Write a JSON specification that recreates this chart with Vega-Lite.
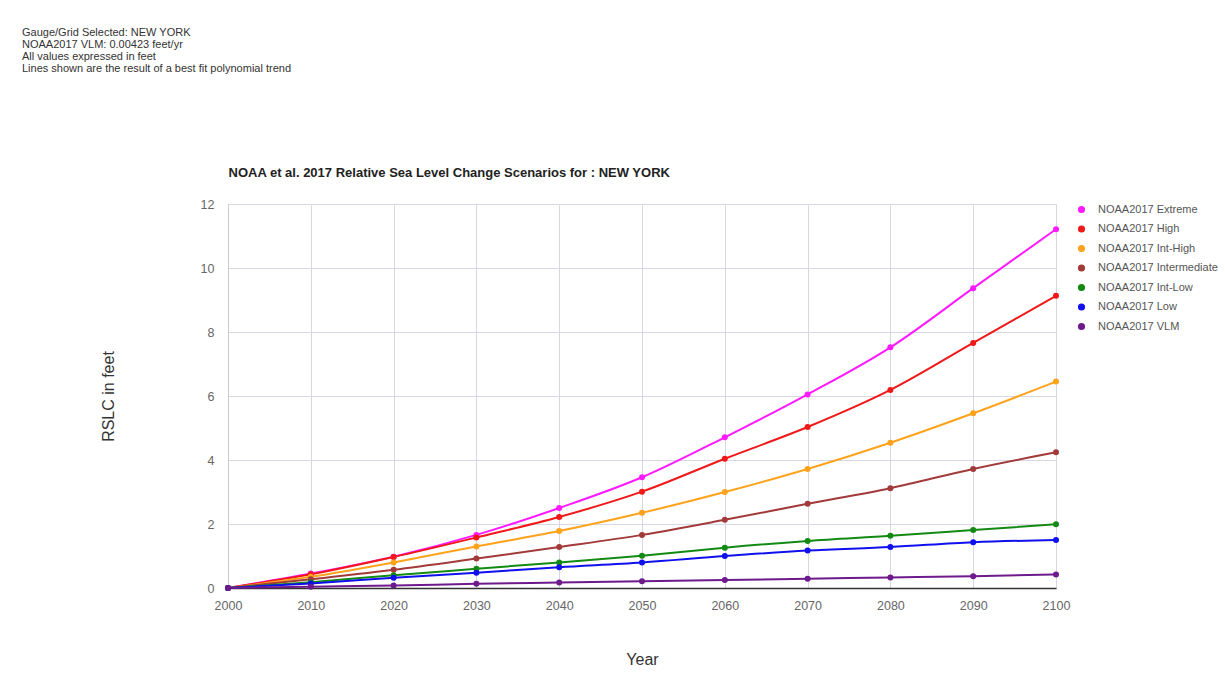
{
  "$schema": "https://vega.github.io/schema/vega-lite/v6.json",
  "width": 828,
  "height": 384,
  "autosize": {"type": "none"},
  "padding": {"left": 228, "top": 204, "right": 169, "bottom": 85},
  "background": "white",
  "title": {
    "text": ["Gauge/Grid Selected: NEW YORK", "NOAA2017 VLM: 0.00423 feet/yr", "All values expressed in feet", "Lines shown are the result of a best fit polynomial trend"],
    "anchor": "start",
    "frame": "group",
    "dx": -206,
    "offset": 81,
    "font": "Liberation Sans",
    "fontSize": 11,
    "fontWeight": "normal",
    "color": "#333333",
    "lineHeight": 12,
    "baseline": "bottom"
  },
  "config": {
    "font": "Liberation Sans",
    "view": {"stroke": "#c9c9d9", "strokeWidth": 1},
    "axis": {
      "gridColor": "#d8d8e4",
      "labelColor": "#666666",
      "labelFont": "Liberation Sans",
      "labelFontSize": 12.5,
      "titleFont": "Liberation Sans",
      "titleColor": "#333333",
      "titleFontSize": 16,
      "titleFontWeight": "normal",
      "ticks": false,
      "labelFlush": false,
      "labelBound": false
    },
    "legend": {
      "labelFont": "Liberation Sans",
      "labelFontSize": 11,
      "labelColor": "#555555"
    }
  },
  "data": {
    "values": [
      {"year": 2000, "scenario": "NOAA2017 Extreme", "rslc": 0},
      {"year": 2010, "scenario": "NOAA2017 Extreme", "rslc": 0.45},
      {"year": 2020, "scenario": "NOAA2017 Extreme", "rslc": 0.98},
      {"year": 2030, "scenario": "NOAA2017 Extreme", "rslc": 1.66},
      {"year": 2040, "scenario": "NOAA2017 Extreme", "rslc": 2.5},
      {"year": 2050, "scenario": "NOAA2017 Extreme", "rslc": 3.46},
      {"year": 2060, "scenario": "NOAA2017 Extreme", "rslc": 4.71},
      {"year": 2070, "scenario": "NOAA2017 Extreme", "rslc": 6.05},
      {"year": 2080, "scenario": "NOAA2017 Extreme", "rslc": 7.52},
      {"year": 2090, "scenario": "NOAA2017 Extreme", "rslc": 9.37},
      {"year": 2100, "scenario": "NOAA2017 Extreme", "rslc": 11.21},
      {"year": 2000, "scenario": "NOAA2017 High", "rslc": 0},
      {"year": 2010, "scenario": "NOAA2017 High", "rslc": 0.43},
      {"year": 2020, "scenario": "NOAA2017 High", "rslc": 0.97},
      {"year": 2030, "scenario": "NOAA2017 High", "rslc": 1.58},
      {"year": 2040, "scenario": "NOAA2017 High", "rslc": 2.22},
      {"year": 2050, "scenario": "NOAA2017 High", "rslc": 3.01},
      {"year": 2060, "scenario": "NOAA2017 High", "rslc": 4.04},
      {"year": 2070, "scenario": "NOAA2017 High", "rslc": 5.03},
      {"year": 2080, "scenario": "NOAA2017 High", "rslc": 6.19},
      {"year": 2090, "scenario": "NOAA2017 High", "rslc": 7.66},
      {"year": 2100, "scenario": "NOAA2017 High", "rslc": 9.13},
      {"year": 2000, "scenario": "NOAA2017 Int-High", "rslc": 0},
      {"year": 2010, "scenario": "NOAA2017 Int-High", "rslc": 0.35},
      {"year": 2020, "scenario": "NOAA2017 Int-High", "rslc": 0.8},
      {"year": 2030, "scenario": "NOAA2017 Int-High", "rslc": 1.3},
      {"year": 2040, "scenario": "NOAA2017 Int-High", "rslc": 1.78},
      {"year": 2050, "scenario": "NOAA2017 Int-High", "rslc": 2.35},
      {"year": 2060, "scenario": "NOAA2017 Int-High", "rslc": 3.0},
      {"year": 2070, "scenario": "NOAA2017 Int-High", "rslc": 3.72},
      {"year": 2080, "scenario": "NOAA2017 Int-High", "rslc": 4.54},
      {"year": 2090, "scenario": "NOAA2017 Int-High", "rslc": 5.46},
      {"year": 2100, "scenario": "NOAA2017 Int-High", "rslc": 6.45},
      {"year": 2000, "scenario": "NOAA2017 Intermediate", "rslc": 0},
      {"year": 2010, "scenario": "NOAA2017 Intermediate", "rslc": 0.27},
      {"year": 2020, "scenario": "NOAA2017 Intermediate", "rslc": 0.57},
      {"year": 2030, "scenario": "NOAA2017 Intermediate", "rslc": 0.92},
      {"year": 2040, "scenario": "NOAA2017 Intermediate", "rslc": 1.28},
      {"year": 2050, "scenario": "NOAA2017 Intermediate", "rslc": 1.66},
      {"year": 2060, "scenario": "NOAA2017 Intermediate", "rslc": 2.13},
      {"year": 2070, "scenario": "NOAA2017 Intermediate", "rslc": 2.63},
      {"year": 2080, "scenario": "NOAA2017 Intermediate", "rslc": 3.12},
      {"year": 2090, "scenario": "NOAA2017 Intermediate", "rslc": 3.72},
      {"year": 2100, "scenario": "NOAA2017 Intermediate", "rslc": 4.24},
      {"year": 2000, "scenario": "NOAA2017 Int-Low", "rslc": 0},
      {"year": 2010, "scenario": "NOAA2017 Int-Low", "rslc": 0.18},
      {"year": 2020, "scenario": "NOAA2017 Int-Low", "rslc": 0.4},
      {"year": 2030, "scenario": "NOAA2017 Int-Low", "rslc": 0.6},
      {"year": 2040, "scenario": "NOAA2017 Int-Low", "rslc": 0.8},
      {"year": 2050, "scenario": "NOAA2017 Int-Low", "rslc": 1.01},
      {"year": 2060, "scenario": "NOAA2017 Int-Low", "rslc": 1.26},
      {"year": 2070, "scenario": "NOAA2017 Int-Low", "rslc": 1.47},
      {"year": 2080, "scenario": "NOAA2017 Int-Low", "rslc": 1.63},
      {"year": 2090, "scenario": "NOAA2017 Int-Low", "rslc": 1.81},
      {"year": 2100, "scenario": "NOAA2017 Int-Low", "rslc": 1.99},
      {"year": 2000, "scenario": "NOAA2017 Low", "rslc": 0},
      {"year": 2010, "scenario": "NOAA2017 Low", "rslc": 0.14},
      {"year": 2020, "scenario": "NOAA2017 Low", "rslc": 0.32},
      {"year": 2030, "scenario": "NOAA2017 Low", "rslc": 0.48},
      {"year": 2040, "scenario": "NOAA2017 Low", "rslc": 0.65},
      {"year": 2050, "scenario": "NOAA2017 Low", "rslc": 0.8},
      {"year": 2060, "scenario": "NOAA2017 Low", "rslc": 1.0},
      {"year": 2070, "scenario": "NOAA2017 Low", "rslc": 1.17},
      {"year": 2080, "scenario": "NOAA2017 Low", "rslc": 1.28},
      {"year": 2090, "scenario": "NOAA2017 Low", "rslc": 1.43},
      {"year": 2100, "scenario": "NOAA2017 Low", "rslc": 1.5},
      {"year": 2000, "scenario": "NOAA2017 VLM", "rslc": 0},
      {"year": 2010, "scenario": "NOAA2017 VLM", "rslc": 0.04},
      {"year": 2020, "scenario": "NOAA2017 VLM", "rslc": 0.08},
      {"year": 2030, "scenario": "NOAA2017 VLM", "rslc": 0.13},
      {"year": 2040, "scenario": "NOAA2017 VLM", "rslc": 0.17},
      {"year": 2050, "scenario": "NOAA2017 VLM", "rslc": 0.21},
      {"year": 2060, "scenario": "NOAA2017 VLM", "rslc": 0.25},
      {"year": 2070, "scenario": "NOAA2017 VLM", "rslc": 0.29},
      {"year": 2080, "scenario": "NOAA2017 VLM", "rslc": 0.33},
      {"year": 2090, "scenario": "NOAA2017 VLM", "rslc": 0.37},
      {"year": 2100, "scenario": "NOAA2017 VLM", "rslc": 0.42}
    ]
  },
  "encoding": {
    "y": {
      "field": "rslc",
      "type": "quantitative",
      "scale": {"domain": [0, 12], "nice": false},
      "axis": {"values": [0, 2, 4, 6, 8, 10, 12], "title": "RSLC in feet", "labelPadding": 14, "titlePadding": 84, "domainColor": "#c9c9d9"}
    },
    "color": {
      "field": "scenario",
      "type": "nominal",
      "sort": ["NOAA2017 Extreme", "NOAA2017 High", "NOAA2017 Int-High", "NOAA2017 Intermediate", "NOAA2017 Int-Low", "NOAA2017 Low", "NOAA2017 VLM"],
      "scale": {
        "domain": ["NOAA2017 Extreme", "NOAA2017 High", "NOAA2017 Int-High", "NOAA2017 Intermediate", "NOAA2017 Int-Low", "NOAA2017 Low", "NOAA2017 VLM"],
        "range": ["#ff1aff", "#f01818", "#ffa21c", "#a33a3a", "#138a13", "#1010ee", "#6e1a8c"]
      },
      "legend": {
        "title": null,
        "orient": "right",
        "offset": 16,
        "symbolType": "circle",
        "symbolSize": 32,
        "rowPadding": 6.5,
        "labelOffset": 11,
        "padding": 0
      }
    }
  },
  "layer": [
    {
      "mark": {"type": "line", "interpolate": "monotone", "strokeWidth": 2},
      "encoding": {
        "x": {
          "field": "year",
          "type": "quantitative",
          "scale": {"domain": [2000, 2100], "nice": false, "zero": false},
          "axis": {"values": [2000, 2010, 2020, 2030, 2040, 2050, 2060, 2070, 2080, 2090, 2100], "format": "d", "title": "Year", "labelPadding": 11, "titlePadding": 40, "domainColor": "#333333", "domainWidth": 1.5}
        }
      }
    },
    {
      "mark": {"type": "point", "filled": true, "size": 36, "opacity": 1},
      "encoding": {
        "x": {
          "field": "year",
          "type": "quantitative",
          "scale": {"domain": [2000, 2100], "nice": false, "zero": false},
          "axis": {"orient": "top", "title": "NOAA et al. 2017 Relative Sea Level Change Scenarios for : NEW YORK", "labels": false, "ticks": false, "domain": false, "grid": false, "titleAnchor": "start", "titleAlign": "left", "titleFontSize": 13, "titleFontWeight": "bold", "titleColor": "#222222", "titlePadding": 25}
        }
      }
    }
  ],
  "resolve": {"axis": {"x": "independent"}}
}
